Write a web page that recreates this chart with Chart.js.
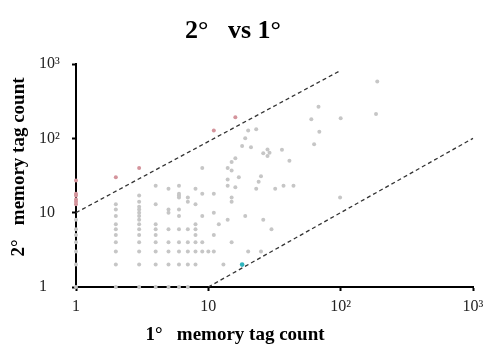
<!DOCTYPE html>
<html><head><meta charset="utf-8">
<script src="https://cdn.jsdelivr.net/npm/chart.js@4/dist/chart.umd.min.js"></script>
<style>html,body{margin:0;padding:0;background:#fff;}</style>
</head><body>
<canvas id="c" width="497" height="346"></canvas>
<script>
// ---- texts ----
const chartTitle = '2°   vs 1°';
const xAxisTitle = '1°   memory tag count';
const yAxisTitle = '2°   memory tag count';
// ---- ticks ----
const tickValues = [1, 10, 100, 1000];
const tickLabels = ['1', '10', '10²', '10³'];
// ---- reference lines (2° = 10×1° and 2° = 1°/10) ----
const upperLineX = [1, 100];
const upperLineY = [10, 820];
const lowerLineX = [10, 1000];
const lowerLineY = [1, 100];
// ---- gray points (between the lines) ----
const grayX = [
  1,1,1,1,1,1,1,
  2,2,2,2,2,2,2,2,2,2,
  3,3,3,3,3,3,3,3,3,3,3,3,3,3,
  4,4,4,4,4,4,4,4,4,
  5,5,5,5,5,5,5,5,
  6,6,6,6,6,6,6,6,6,6,6,
  7,7,7,7,7,7,7,
  8,8,8,8,8,8,8,8,
  9,9,9,9,9,
  10, 11,11,11,11, 12, 13,
  14,14,14,14, 15,15,15,15,15, 16,16, 17, 18, 19,19, 20,20, 21, 23,23, 24, 25,25, 26,26, 28,28, 29, 30, 32, 36, 37, 41, 44, 60, 63, 68, 69, 99, 100, 185, 189
];
const grayY = [
  1,2,3,4,5,6,8,
  1,2,3,4,5,6,7,9,11,13,
  1,2,3,4,5,6,7,8,9,10,11,12,14,17,
  1,2,3,4,5,6,7,13,23,
  1,2,3,4,6,10,11,21,
  1,2,3,4,6,9,11,16,17,18,23,
  1,2,3,4,6,14,16,
  2,3,4,5,6,7,13,21,
  3,4,9,18,40,
  3, 3,5,10,18, 7, 2,
  8,23,28,40, 4,14,16,37,48, 22,54, 30, 79, 9,100, 3,127, 76, 21,133, 26, 3,31, 8,63, 58,71, 64, 6, 21, 70, 23, 50, 23, 181, 83, 267, 123, 16, 187, 213, 580
];
// ---- pink points (above upper line) ----
const pinkX = [1, 1, 1, 1, 1, 1, 2, 3, 11, 16];
const pinkY = [13, 14, 15, 17, 18, 27, 30, 40, 127, 192];
// ---- cyan point (on/below lower line) ----
const cyanX = [18];
const cyanY = [2];

const pts = (xs, ys) => xs.map((x, i) => ({x, y: ys[i]}));

const serif = '"Liberation Serif", "Times New Roman", serif';

const textPlugin = {
  id: 'texts',
  afterDraw(chart) {
    const ctx = chart.ctx;
    ctx.save();
    ctx.fillStyle = '#000';
    ctx.textAlign = 'center';
    ctx.textBaseline = 'alphabetic';
    ctx.font = 'bold 26px ' + serif;
    ctx.fillText(chartTitle, 233, 38);
    ctx.font = 'bold 19px ' + serif;
    ctx.fillText(xAxisTitle, 235, 340);
    ctx.translate(24, 167);
    ctx.rotate(-Math.PI / 2);
    ctx.fillText(yAxisTitle, 0, 0);
    ctx.restore();
  }
};

function axisOpts(isX) {
  return {
    type: 'logarithmic',
    min: 1, max: 1000,
    position: isX ? 'bottom' : 'left',
    afterBuildTicks: s => { s.ticks = tickValues.map(v => ({value: v})); },
    afterFit: s => { if (isX) s.height = 59; else s.width = 37; },
    grid: {display: true, drawOnChartArea: false, drawTicks: true, tickLength: 4, tickWidth: 2, tickColor: '#000'},
    border: {display: true, color: '#000', width: 2},
    ticks: {
      font: {family: serif, size: 16},
      color: '#222',
      padding: isX ? 6 : 4,
      maxRotation: 0, autoSkip: false,
      crossAlign: isX ? 'near' : 'far',
      callback: v => tickLabels[tickValues.indexOf(v)]
    }
  };
}

new Chart(document.getElementById('c'), {
  type: 'scatter',
  data: {
    datasets: [
      {data: pts(grayX, grayY), backgroundColor: '#c6c6c6', borderColor: '#c6c6c6', pointRadius: 2, borderWidth: 0, clip: false},
      {data: pts(pinkX, pinkY), backgroundColor: '#d4949c', borderColor: '#d4949c', pointRadius: 2, borderWidth: 0, clip: false},
      {data: pts(cyanX, cyanY), backgroundColor: '#2fb4bd', borderColor: '#2fb4bd', pointRadius: 2.3, borderWidth: 0, clip: false},
      {data: pts(upperLineX, upperLineY), showLine: true, borderColor: '#333', borderWidth: 1.3, borderDash: [4, 3], pointRadius: 0, clip: false},
      {data: pts(lowerLineX, lowerLineY), showLine: true, borderColor: '#333', borderWidth: 1.3, borderDash: [4, 3], pointRadius: 0, clip: false}
    ]
  },
  options: {
    responsive: false,
    animation: false,
    devicePixelRatio: 1,
    layout: {padding: {top: 64, right: 24, left: 39, bottom: 0}},
    plugins: {legend: {display: false}, tooltip: {enabled: false}, title: {display: false}},
    scales: {x: axisOpts(true), y: axisOpts(false)}
  },
  plugins: [textPlugin]
});
</script>
</body></html>
